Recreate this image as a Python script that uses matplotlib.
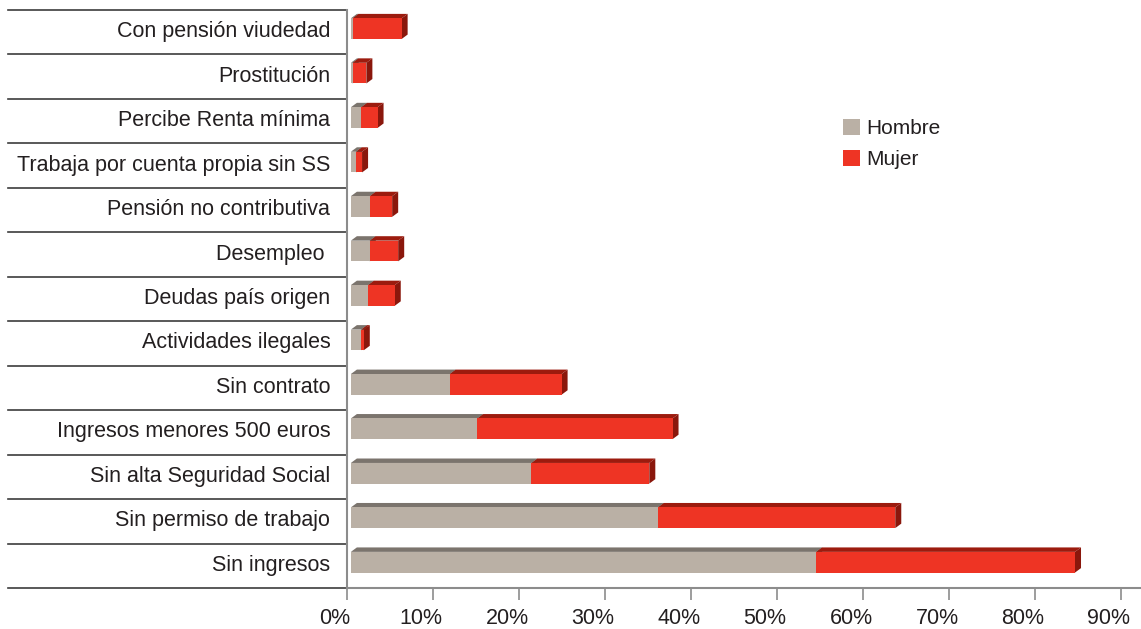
import numpy as np
import matplotlib.pyplot as plt
from matplotlib.patches import Polygon, Rectangle
from matplotlib.transforms import ScaledTranslation

plt.rcParams['font.family'] = ['Liberation Sans', 'DejaVu Sans']

# Categories from top to bottom as shown in the chart
categories = ['Con pensión viudedad', 'Prostitución', 'Percibe Renta mínima',
              'Trabaja por cuenta propia sin SS', 'Pensión no contributiva',
              'Desempleo ', 'Deudas país origen', 'Actividades ilegales',
              'Sin contrato', 'Ingresos menores 500 euros',
              'Sin alta Seguridad Social', 'Sin permiso de trabajo', 'Sin ingresos']

# Percentages (%)
hombre = [0.2, 0.2, 1.2, 0.6, 2.2, 2.2, 2.0, 1.2, 11.5, 14.7, 21.0, 35.7, 54.1]
mujer = [5.7, 1.6, 1.9, 0.7, 2.6, 3.3, 3.1, 0.3, 13.0, 22.7, 13.7, 27.6, 30.1]

xticks = [0, 10, 20, 30, 40, 50, 60, 70, 80, 90]
xtick_labels = ['0%', '10%', '20%', '30%', '40%', '50%', '60%', '70%', '80%', '90%']

# Colours: front face, top face, side face
c_hombre = ('#bab0a5', '#7b746d', '#6d665f')
c_mujer = ('#ee3424', '#9c1b0e', '#8a170c')

W, H = 1141, 629
fig = plt.figure(figsize=(W / 100, H / 100), dpi=100)
ax = fig.add_axes([347 / W, 1 - 588 / H, (W - 347) / W, (588 - 10) / H])

xmax = (W - 347) / 8.6
ax.set_xlim(0, xmax)
ax.set_ylim(len(categories) - 0.5, -0.5)

# 3D look: depth offsets in data units
gap = 0.45
dx = 0.7
dy = 0.1
bh = 0.465
shift = 0.08


def box(x0, width, y, colors):
    front, top, side = colors
    yt = y - shift - bh / 2
    yb = y - shift + bh / 2
    x1 = x0 + width
    ax.add_patch(Polygon([(x0, yt), (x1, yt), (x1 + dx, yt - dy), (x0 + dx, yt - dy)],
                         closed=True, facecolor=top, edgecolor='none'))
    ax.add_patch(Polygon([(x1, yt), (x1 + dx, yt - dy), (x1 + dx, yb - dy), (x1, yb)],
                         closed=True, facecolor=side, edgecolor='none'))
    ax.add_patch(Rectangle((x0, yt), width, bh, facecolor=front, edgecolor='none'))


for i in range(len(categories)):
    box(gap, hombre[i], i, c_hombre)
    box(gap + hombre[i], mujer[i], i, c_mujer)

# Row separators on the category side
ytrans = ax.get_yaxis_transform()
for b in np.arange(-0.5, len(categories), 1.0):
    ax.plot([-339 / (W - 347), 0], [b, b], color='#3c3c3c', lw=1.2,
            transform=ytrans, clip_on=False)

for s in ['top', 'right']:
    ax.spines[s].set_visible(False)
for s in ['left', 'bottom']:
    ax.spines[s].set_color('#8c8c8c')
    ax.spines[s].set_linewidth(1.5)

ax.set_yticks(range(len(categories)))
ax.set_yticklabels(categories, fontsize=15.5, color='#231f20')
ax.tick_params(axis='y', length=0, pad=12)
yoff = ScaledTranslation(0, 3 / 100, fig.dpi_scale_trans)
for lbl in ax.get_yticklabels():
    lbl.set_transform(lbl.get_transform() + yoff)

ax.set_xticks(xticks)
ax.set_xticklabels(xtick_labels, fontsize=15.5, color='#231f20')
ax.tick_params(axis='x', length=8.5, width=1.2, color='#8c8c8c', pad=6, direction='out')
off = ScaledTranslation(-12 / 100, 0, fig.dpi_scale_trans)
for lbl in ax.get_xticklabels():
    lbl.set_transform(lbl.get_transform() + off)

# Legend
handles = [Rectangle((0, 0), 1, 1, facecolor=c_hombre[0]),
           Rectangle((0, 0), 1, 1, facecolor=c_mujer[0])]
leg = fig.legend(handles, ['Hombre', 'Mujer'], loc='upper left',
                 bbox_to_anchor=(843 / W, 1 - 119 / H), frameon=False,
                 fontsize=15, handlelength=0.8, handleheight=0.8,
                 handletextpad=0.3, labelspacing=0.55, borderpad=0, borderaxespad=0)
for t in leg.get_texts():
    t.set_color('#231f20')

fig.savefig('out.png', dpi=100)
